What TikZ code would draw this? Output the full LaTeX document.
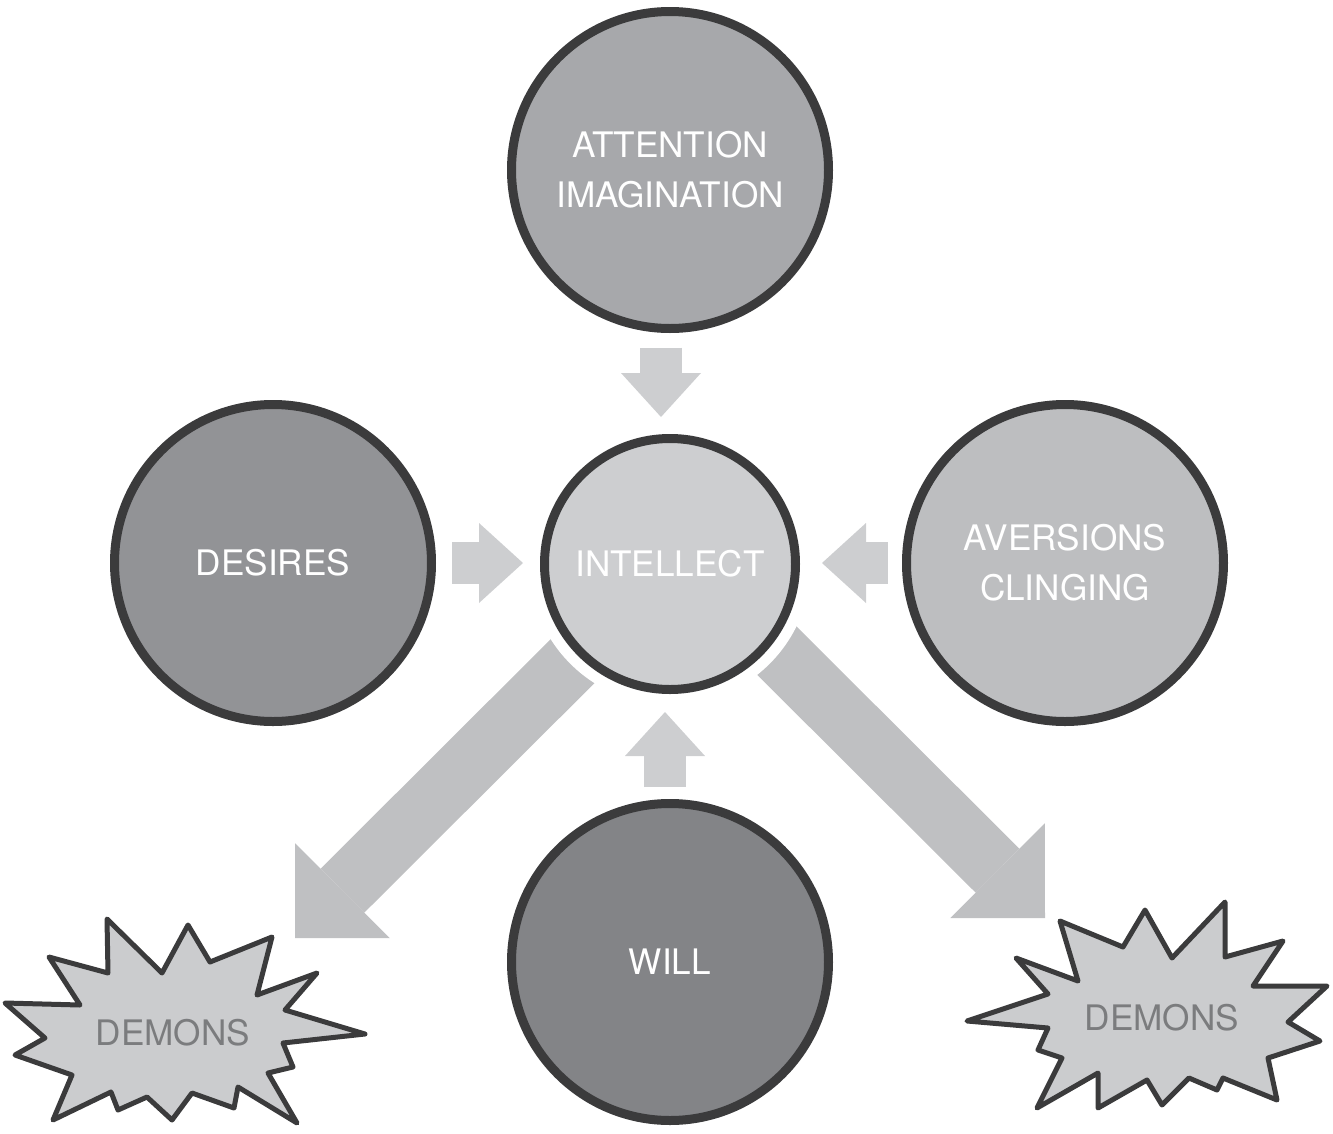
\documentclass[tikz,border=0pt]{standalone}
\usepackage{fontspec}
\setmainfont{TeX Gyre Heros}
\usetikzlibrary{arrows.meta,positioning,calc,backgrounds}
\definecolor{ring}{HTML}{3B3B3C}
\definecolor{attnfill}{HTML}{A7A8AB}
\definecolor{desfill}{HTML}{929396}
\definecolor{intfill}{HTML}{CDCED0}
\definecolor{avfill}{HTML}{BDBEC0}
\definecolor{willfill}{HTML}{838487}
\definecolor{shortarr}{HTML}{CDCED0}
\definecolor{diagarr}{HTML}{BFC0C2}
\definecolor{starfill}{HTML}{CBCCCE}
\definecolor{demtext}{HTML}{7B7C7E}

\begin{document}
\begin{tikzpicture}[
  faculty/.style={circle, draw=ring, line width=0.09cm, minimum size=3.17cm, inner sep=0pt, text=white, align=center, font=\fontsize{10}{14.2}\selectfont},
  inflow/.style={color=shortarr, line width=0.42cm, -{Triangle[length=0.44cm, width=0.8cm, line width=0pt]}},
  outflow/.style={color=diagarr, line width=0.62cm, -{Triangle[length=0.67cm, width=1.34cm, line width=0pt]}},
  burst/.style={draw=ring, fill=starfill, line width=0.05cm, line join=round},
  demon/.style={text=demtext, font=\fontsize{10}{12}\selectfont}]
  \useasboundingbox (0,0) rectangle (13.33,-11.34);
  % the five faculties
  \node[faculty, fill=attnfill] (attn) at (6.70,-1.70) {ATTENTION\\IMAGINATION};
  \node[faculty, fill=desfill] (desires) at (2.73,-5.63) {DESIRES};
  \node[faculty, fill=intfill, minimum size=2.51cm] (intel) at (6.70,-5.64) {INTELLECT};
  \node[faculty, fill=avfill] (aversions) at (10.65,-5.63) {AVERSIONS\\CLINGING};
  \node[faculty, fill=willfill] (will) at (6.70,-9.62) {WILL};
  % arrows into the intellect
  \draw[inflow, shorten <=0.145cm, shorten >=0.17cm] ([xshift=-0.09cm]attn.south) -- ([xshift=-0.09cm]intel.north);
  \draw[inflow, shorten <=0.16cm, shorten >=0.17cm] (desires.east) -- (desires.east -| intel.west);
  \draw[inflow, shorten <=0.145cm, shorten >=0.22cm] (aversions.west) -- (aversions.west -| intel.east);
  \draw[inflow, shorten <=0.12cm, shorten >=0.18cm] ([xshift=-0.05cm]will.north) -- ([xshift=-0.05cm]intel.south);
  % arrows out to the demons
  \coordinate (startR) at (7.20,-5.94);
  \coordinate (tipL) at (2.95,-9.38);
  \coordinate (tipR) at (10.45,-9.18);
  \begin{scope}[on background layer]
    \draw[outflow] (intel.center) -- (tipL);
    \draw[outflow] (startR) -- (tipR);
    \fill[white] (intel.center) circle (1.41cm);
  \end{scope}
  % demons
  \draw[burst] (0.05,-10.03) -- (0.80,-10.05) -- (0.49,-9.57) -- (1.08,-9.73) -- (1.07,-9.19) -- (1.62,-9.73) -- (1.88,-9.25) -- (2.10,-9.62)
    -- (2.72,-9.37) -- (2.57,-9.95) -- (3.17,-9.73) -- (2.85,-10.10) -- (3.65,-10.34) -- (2.83,-10.43) -- (2.93,-10.67) -- (2.68,-10.73)
    -- (2.97,-11.23) -- (2.38,-10.87) -- (2.34,-11.08) -- (1.92,-10.93) -- (1.72,-11.20) -- (1.47,-10.97) -- (1.18,-11.10) -- (1.11,-10.92)
    -- (0.53,-11.20) -- (0.72,-10.75) -- (0.15,-10.55) -- (0.45,-10.38) -- cycle;
  \draw[burst] (9.67,-10.21) -- (10.48,-9.94) -- (10.16,-9.58) -- (10.78,-9.81) -- (10.60,-9.21) -- (11.23,-9.47) -- (11.45,-9.10) -- (11.72,-9.58)
    -- (12.25,-9.02) -- (12.25,-9.57) -- (12.83,-9.41) -- (12.53,-9.86) -- (13.27,-9.86) -- (12.88,-10.22) -- (13.20,-10.41) -- (12.68,-10.58)
    -- (12.77,-11.00) -- (12.23,-10.78) -- (12.17,-10.90) -- (11.89,-10.78) -- (11.62,-11.05) -- (11.47,-10.80) -- (10.98,-11.08) -- (10.98,-10.73)
    -- (10.37,-11.08) -- (10.62,-10.58) -- (10.38,-10.50) -- (10.48,-10.28) -- cycle;
  \node[demon] (demonL) at (1.73,-10.33) {DEMONS};
  \node[demon] (demonR) at (11.62,-10.18) {DEMONS};
\end{tikzpicture}
\end{document}
